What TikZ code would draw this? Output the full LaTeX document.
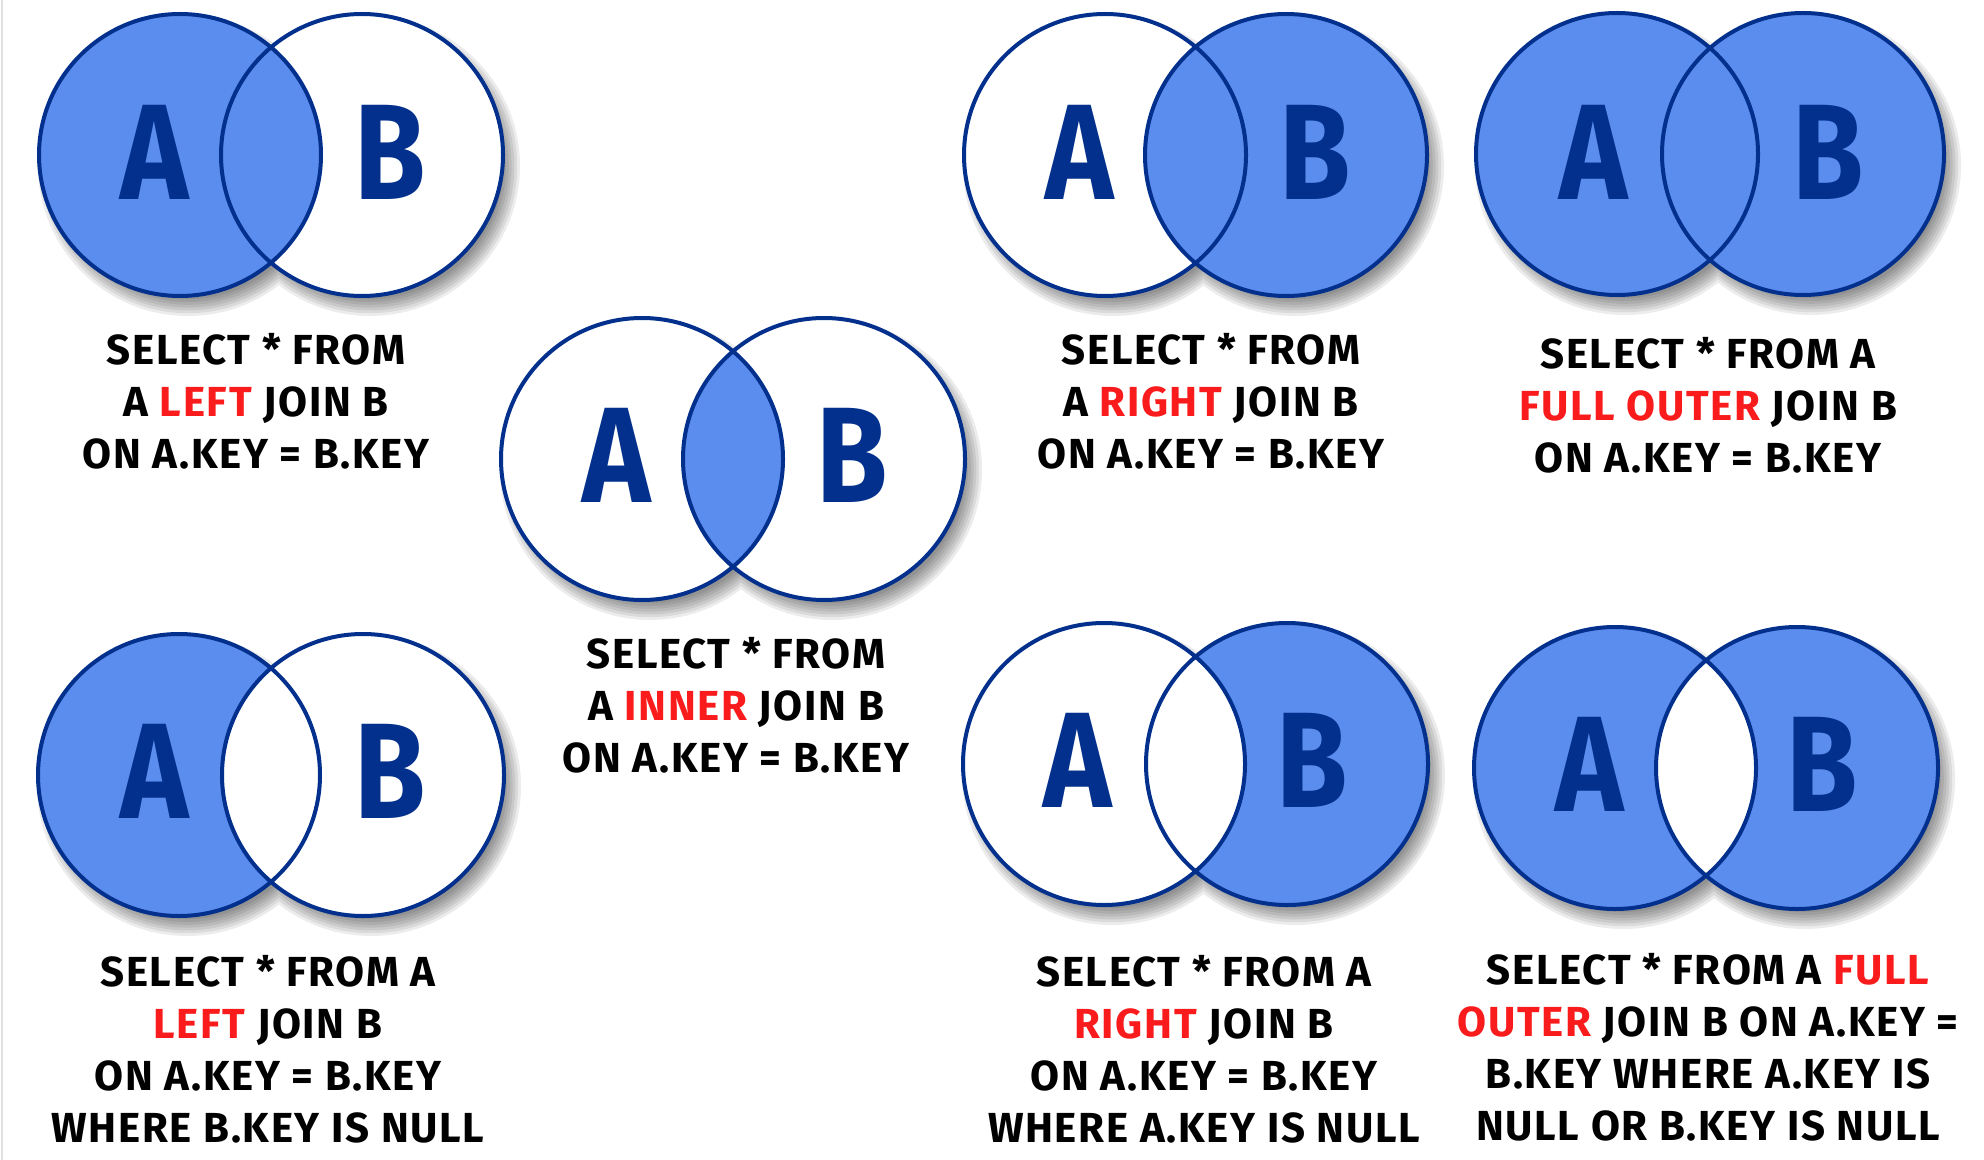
\documentclass[tikz,border=0pt]{standalone}
\usepackage{fontspec}
\setmainfont{Fira Sans}[BoldFont={Fira Sans Bold}]
\usetikzlibrary{calc}
\definecolor{vfill}{RGB}{91,141,239}
\definecolor{vline}{RGB}{2,48,140}
\definecolor{kwred}{RGB}{250,28,28}
\newcommand{\kw}[1]{\textcolor{kwred}{#1}}
\newcommand{\vletter}[1]{\scalebox{0.85}[1]{#1}}
\newcommand{\vshadow}[2]{%
  \foreach \k in {0,...,6} {
    \fill[black, opacity=0.075] ($(#1)+(8,11)$) circle ({75pt-\k*1.4pt})
                               ($(#2)+(8,11)$) circle ({75pt-\k*1.4pt});
  }}
\tikzset{
  caption/.style={font=\bfseries\fontsize{21}{26}\selectfont\addfontfeatures{LetterSpace=4}, align=center,
    anchor=north, inner sep=0pt, text=black},
  letter/.style={font=\bfseries\fontsize{68}{68}\selectfont, text=vline, inner sep=0pt},
  ring/.style={draw=vline, line width=2pt},
}
\begin{document}
\begin{tikzpicture}[x=0.5pt, y=-0.5pt]
\def\R{70.5pt}
\useasboundingbox[fill=white] (0,0) rectangle (1984,1160);
\draw[black!12, line width=1pt] (2,0) -- (2,1160);

% ---------- coordinates ----------
\coordinate (d1a) at (180,155);  \coordinate (d1b) at (362,155);
\coordinate (d2a) at (642,459);  \coordinate (d2b) at (824,459);
\coordinate (d3a) at (1105,155); \coordinate (d3b) at (1286,155);
\coordinate (d4a) at (1617,154); \coordinate (d4b) at (1803,154);
\coordinate (d5a) at (179,775);  \coordinate (d5b) at (363,775);
\coordinate (d6a) at (1104,764); \coordinate (d6b) at (1287,764);
\coordinate (d7a) at (1615,768); \coordinate (d7b) at (1797,768);

% ---------- shadows ----------
\vshadow{d1a}{d1b}
\vshadow{d2a}{d2b}
\vshadow{d3a}{d3b}
\vshadow{d4a}{d4b}
\vshadow{d5a}{d5b}
\vshadow{d6a}{d6b}
\vshadow{d7a}{d7b}

% ---------- D1: LEFT JOIN ----------
\fill[white] (d1b) circle (\R);
\fill[vfill] (d1a) circle (\R);
\draw[ring] (d1a) circle (\R) (d1b) circle (\R);

% ---------- D2: INNER JOIN ----------
\fill[white] (d2a) circle (\R) (d2b) circle (\R);
\begin{scope}
  \clip (d2a) circle (\R);
  \fill[vfill] (d2b) circle (\R);
\end{scope}
\draw[ring] (d2a) circle (\R) (d2b) circle (\R);

% ---------- D3: RIGHT JOIN ----------
\fill[white] (d3a) circle (\R);
\fill[vfill] (d3b) circle (\R);
\draw[ring] (d3a) circle (\R) (d3b) circle (\R);

% ---------- D4: FULL OUTER JOIN ----------
\fill[vfill] (d4a) circle (\R) (d4b) circle (\R);
\draw[ring] (d4a) circle (\R) (d4b) circle (\R);

% ---------- D5: LEFT JOIN, B.KEY IS NULL ----------
\fill[vfill] (d5a) circle (\R);
\fill[white] (d5b) circle (\R);
\draw[ring] (d5a) circle (\R) (d5b) circle (\R);

% ---------- D6: RIGHT JOIN, A.KEY IS NULL ----------
\fill[vfill] (d6b) circle (\R);
\fill[white] (d6a) circle (\R);
\draw[ring] (d6a) circle (\R) (d6b) circle (\R);

% ---------- D7: FULL OUTER JOIN, either NULL ----------
\fill[vfill] (d7a) circle (\R) (d7b) circle (\R);
\begin{scope}
  \clip (d7a) circle (\R);
  \fill[white] (d7b) circle (\R);
\end{scope}
\draw[ring] (d7a) circle (\R) (d7b) circle (\R);

% ---------- letters ----------
\node[letter] (l1a) at (155,152) {\vletter{A}};  \node[letter] (l1b) at (390,152) {\vletter{B}};
\node[letter] (l2a) at (617,455) {\vletter{A}};  \node[letter] (l2b) at (852,455) {\vletter{B}};
\node[letter] (l3a) at (1080,152) {\vletter{A}}; \node[letter] (l3b) at (1315,152) {\vletter{B}};
\node[letter] (l4a) at (1594,152) {\vletter{A}}; \node[letter] (l4b) at (1828,152) {\vletter{B}};
\node[letter] (l5a) at (155,771) {\vletter{A}};  \node[letter] (l5b) at (390,771) {\vletter{B}};
\node[letter] (l6a) at (1078,760) {\vletter{A}}; \node[letter] (l6b) at (1312,760) {\vletter{B}};
\node[letter] (l7a) at (1590,764) {\vletter{A}}; \node[letter] (l7b) at (1822,764) {\vletter{B}};

% ---------- captions ----------
\node[caption] (c1) at (256,333) {SELECT * FROM\\A \kw{LEFT} JOIN B\\ON A.KEY = B.KEY};
\node[caption] (c2) at (736,637) {SELECT * FROM\\A \kw{INNER} JOIN B\\ON A.KEY = B.KEY};
\node[caption] (c3) at (1211,333) {SELECT * FROM\\A \kw{RIGHT} JOIN B\\ON A.KEY = B.KEY};
\node[caption] (c4) at (1708,337) {SELECT * FROM A\\\kw{FULL OUTER} JOIN B\\ON A.KEY = B.KEY};
\node[caption] (c5) at (268,955) {SELECT * FROM A\\\kw{LEFT} JOIN B\\ON A.KEY = B.KEY\\WHERE B.KEY IS NULL};
\node[caption] (c6) at (1204,955) {SELECT * FROM A\\\kw{RIGHT} JOIN B\\ON A.KEY = B.KEY\\WHERE A.KEY IS NULL};
\node[caption] (c7) at (1708,953) {SELECT * FROM A \kw{FULL}\\\kw{OUTER} JOIN B ON A.KEY =\\B.KEY WHERE A.KEY IS\\NULL OR B.KEY IS NULL};
\end{tikzpicture}
\end{document}
